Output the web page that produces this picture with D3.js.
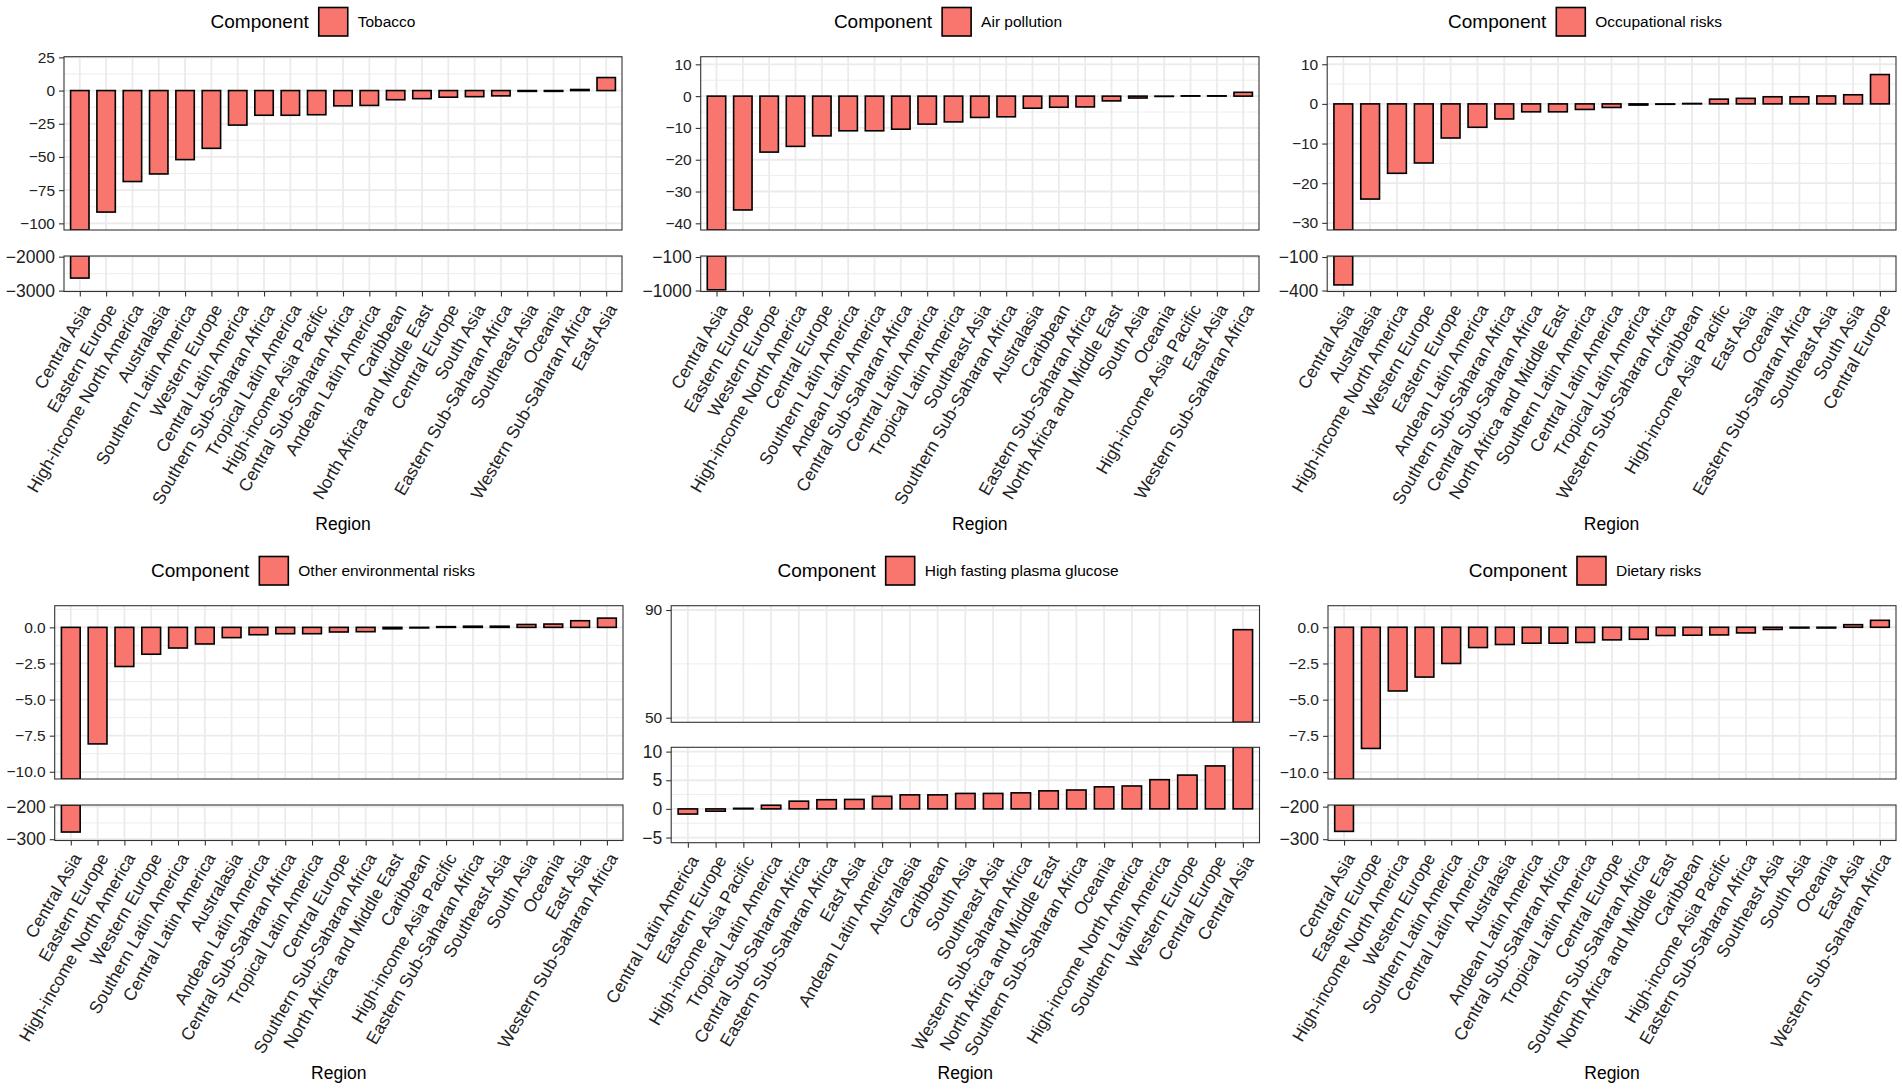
<!DOCTYPE html>
<html>
<head>
<meta charset="utf-8">
<title>Change by region and risk component</title>
<script src="https://d3js.org/d3.v7.min.js"></script>
<style>
  body { margin: 0; background: #fff; }
  text { font-family: "Liberation Sans", Arial, Helvetica, sans-serif; }
</style>
</head>
<body>
<script>
// ---- values ----
var tobaccoRegions = ["Central Asia", "Eastern Europe", "High-income North America", "Australasia",
  "Southern Latin America", "Western Europe", "Central Latin America", "Southern Sub-Saharan Africa",
  "Tropical Latin America", "High-income Asia Pacific", "Central Sub-Saharan Africa", "Andean Latin America",
  "Caribbean", "North Africa and Middle East", "Central Europe", "South Asia", "Eastern Sub-Saharan Africa",
  "Southeast Asia", "Oceania", "Western Sub-Saharan Africa", "East Asia"];
var tobaccoValues = [-2630, -91.5, -68.5, -62.8, -52, -43.5, -26, -18.6, -18.6, -18.2, -11.5, -11.2,
  -6.9, -6.1, -5, -4.6, -4, -0.6, -0.6, 0.8, 9.8];

var airRegions = ["Central Asia", "Eastern Europe", "Western Europe", "High-income North America",
  "Central Europe", "Southern Latin America", "Andean Latin America", "Central Sub-Saharan Africa",
  "Central Latin America", "Tropical Latin America", "Southeast Asia", "Southern Sub-Saharan Africa",
  "Australasia", "Caribbean", "Eastern Sub-Saharan Africa", "North Africa and Middle East", "South Asia",
  "Oceania", "High-income Asia Pacific", "East Asia", "Western Sub-Saharan Africa"];
var airValues = [-980, -35.8, -17.6, -15.8, -12.5, -10.9, -10.9, -10.4, -8.8, -8.1, -6.7, -6.5,
  -3.8, -3.5, -3.4, -1.5, -0.6, -0.1, 0.1, 0.1, 1.2];

var occupationalRegions = ["Central Asia", "Australasia", "High-income North America", "Western Europe",
  "Eastern Europe", "Andean Latin America", "Southern Sub-Saharan Africa", "Central Sub-Saharan Africa",
  "North Africa and Middle East", "Southern Latin America", "Central Latin America", "Tropical Latin America",
  "Western Sub-Saharan Africa", "Caribbean", "High-income Asia Pacific", "East Asia", "Oceania",
  "Eastern Sub-Saharan Africa", "Southeast Asia", "South Asia", "Central Europe"];
var occupationalValues = [-350, -24, -17.5, -14.9, -8.6, -5.9, -3.8, -2, -2, -1.4, -0.9, -0.3,
  -0.1, 0.1, 1.2, 1.4, 1.8, 1.8, 2.0, 2.3, 7.4];

var otherEnvRegions = ["Central Asia", "Eastern Europe", "High-income North America", "Western Europe",
  "Southern Latin America", "Central Latin America", "Australasia", "Andean Latin America",
  "Central Sub-Saharan Africa", "Tropical Latin America", "Central Europe", "Southern Sub-Saharan Africa",
  "North Africa and Middle East", "Caribbean", "High-income Asia Pacific", "Eastern Sub-Saharan Africa",
  "Southeast Asia", "South Asia", "Oceania", "East Asia", "Western Sub-Saharan Africa"];
var otherEnvValues = [-278, -8.07, -2.71, -1.86, -1.43, -1.15, -0.71, -0.51, -0.44, -0.44, -0.32, -0.3,
  -0.1, -0.04, 0.05, 0.08, 0.08, 0.2, 0.23, 0.46, 0.64];

var glucoseRegions = ["Central Latin America", "Eastern Europe", "High-income Asia Pacific",
  "Tropical Latin America", "Central Sub-Saharan Africa", "Eastern Sub-Saharan Africa", "East Asia",
  "Andean Latin America", "Australasia", "Caribbean", "South Asia", "Southeast Asia",
  "Western Sub-Saharan Africa", "North Africa and Middle East", "Southern Sub-Saharan Africa", "Oceania",
  "High-income North America", "Southern Latin America", "Western Europe", "Central Europe", "Central Asia"];
var glucoseValues = [-0.9, -0.4, 0.1, 0.64, 1.35, 1.6, 1.65, 2.2, 2.45, 2.45, 2.7, 2.7,
  2.8, 3.15, 3.3, 3.85, 4.0, 5.1, 5.9, 7.5, 82.7];

var dietaryRegions = ["Central Asia", "Eastern Europe", "High-income North America", "Western Europe",
  "Southern Latin America", "Central Latin America", "Australasia", "Andean Latin America",
  "Central Sub-Saharan Africa", "Tropical Latin America", "Central Europe", "Southern Sub-Saharan Africa",
  "North Africa and Middle East", "Caribbean", "High-income Asia Pacific", "Eastern Sub-Saharan Africa",
  "Southeast Asia", "South Asia", "Oceania", "East Asia", "Western Sub-Saharan Africa"];
var dietaryValues = [-276, -8.37, -4.4, -3.44, -2.5, -1.4, -1.19, -1.1, -1.1, -1.05, -0.87, -0.83,
  -0.57, -0.55, -0.53, -0.39, -0.15, -0.05, -0.05, 0.18, 0.48];

// y tick labels of each axis segment (upper segment first)
var tobaccoTicks = [25, 0, -25, -50, -75, -100], tobaccoBreakTicks = [-2000, -3000];
var airTicks = [10, 0, -10, -20, -30, -40], airBreakTicks = [-100, -1000];
var occupationalTicks = [10, 0, -10, -20, -30], occupationalBreakTicks = [-100, -400];
var otherEnvTicks = [0, -2.5, -5, -7.5, -10], otherEnvBreakTicks = [-200, -300];
var glucoseBreakTicks = [90, 50], glucoseTicks = [10, 5, 0, -5];
var dietaryTicks = [0, -2.5, -5, -7.5, -10], dietaryBreakTicks = [-200, -300];

// ---- figure ----
var width = 1902, height = 1090;
var barFill = "#F8766D";
var textCol = "#222";
var rowOff = [0, 549];
var colCenter = [313, 948, 1585];

var panels = [
  { name: "Tobacco", regions: tobaccoRegions, values: tobaccoValues,
    left: 64, right: 622,
    segs: [{ top: 56.7, bottom: 230, domain: [-105, 25.5], ticks: tobaccoTicks, digits: 0, big: false },
           { top: 256, bottom: 291.5, domain: [-3025, -1980], ticks: tobaccoBreakTicks, digits: 0, big: true }] },
  { name: "Air pollution", regions: airRegions, values: airValues,
    left: 700.7, right: 1259,
    segs: [{ top: 56.7, bottom: 230, domain: [-42.1, 12.4], ticks: airTicks, digits: 0, big: false },
           { top: 256, bottom: 291.5, domain: [-1026, -73], ticks: airBreakTicks, digits: 0, big: true }] },
  { name: "Occupational risks", regions: occupationalRegions, values: occupationalValues,
    left: 1327.2, right: 1896,
    segs: [{ top: 56.7, bottom: 230, domain: [-31.8, 11.9], ticks: occupationalTicks, digits: 0, big: false },
           { top: 256, bottom: 291.5, domain: [-409, -91], ticks: occupationalBreakTicks, digits: 0, big: true }] },
  { name: "Other environmental risks", regions: otherEnvRegions, values: otherEnvValues,
    left: 54.7, right: 623,
    segs: [{ top: 605.7, bottom: 779, domain: [-10.5, 1.5], ticks: otherEnvTicks, digits: 1, big: false },
           { top: 805, bottom: 840.5, domain: [-304, -195], ticks: otherEnvBreakTicks, digits: 0, big: true }] },
  { name: "High fasting plasma glucose", regions: glucoseRegions, values: glucoseValues,
    left: 671.2, right: 1259.5,
    segs: [{ top: 605.7, bottom: 722.3, domain: [48.3, 91.6], ticks: glucoseBreakTicks, digits: 0, big: false },
           { top: 747.3, bottom: 842.7, domain: [-5.9, 10.75], ticks: glucoseTicks, digits: 0, big: true }] },
  { name: "Dietary risks", regions: dietaryRegions, values: dietaryValues,
    left: 1328, right: 1896,
    segs: [{ top: 605.7, bottom: 779, domain: [-10.48, 1.49], ticks: dietaryTicks, digits: 1, big: false },
           { top: 805, bottom: 840.5, domain: [-304, -195], ticks: dietaryBreakTicks, digits: 0, big: true }] }
];

var svg = d3.select("body").append("svg")
  .attr("width", width)
  .attr("height", height)
  .style("display", "block");

svg.append("rect").attr("width", width).attr("height", height).attr("fill", "#fff");

function fmt(digits) {
  return function(t) {
    var s = Math.abs(t).toFixed(digits);
    return (t < 0 ? "\u2212" : "") + s;
  };
}

// minor breaks halfway between majors, as ggplot does
function minorBreaks(ticks, domain) {
  var step = Math.abs(ticks[0] - ticks[1]), out = [];
  ticks.forEach(function(t) {
    [t - step / 2, t + step / 2].forEach(function(m) {
      if (m > domain[0] && m < domain[1] && out.indexOf(m) < 0) out.push(m);
    });
  });
  return out;
}

panels.forEach(function(p, i) {
  var col = i % 3, row = Math.floor(i / 3), off = rowOff[row];
  var g = svg.append("g");

  var x = d3.scalePoint().domain(p.regions).range([p.left, p.right]).padding(0.6);
  var bw = x.step() * 0.7;
  var data = p.regions.map(function(r, k) { return { region: r, value: p.values[k] }; });

  // legend
  var lg = g.append("g");
  var title = lg.append("text").text("Component")
    .attr("font-size", 19).attr("fill", "#000")
    .attr("y", off + 21.7).attr("dy", "0.35em");
  var label = lg.append("text").text(p.name)
    .attr("font-size", 15.5).attr("fill", "#000")
    .attr("y", off + 21.7).attr("dy", "0.35em");
  var tw = title.node().getComputedTextLength();
  var lw = label.node().getComputedTextLength();
  var start = colCenter[col] - (tw + 10 + 29 + 10 + lw) / 2;
  title.attr("x", start);
  lg.append("rect")
    .attr("x", start + tw + 10).attr("y", off + 7.5)
    .attr("width", 29).attr("height", 28.5)
    .attr("fill", barFill).attr("stroke", "#000").attr("stroke-width", 1.6);
  label.attr("x", start + tw + 10 + 29 + 10);

  p.segs.forEach(function(s, k) {
    var y = d3.scaleLinear().domain(s.domain).range([s.bottom, s.top]).clamp(true);
    var clipId = "clip" + i + "_" + k;
    g.append("clipPath").attr("id", clipId)
      .append("rect")
      .attr("x", p.left).attr("y", s.top)
      .attr("width", p.right - p.left).attr("height", s.bottom - s.top);

    var pg = g.append("g").attr("clip-path", "url(#" + clipId + ")");
    pg.append("rect")
      .attr("x", p.left).attr("y", s.top)
      .attr("width", p.right - p.left).attr("height", s.bottom - s.top)
      .attr("fill", "#fff");

    pg.selectAll(".minor").data(minorBreaks(s.ticks, s.domain)).enter().append("line")
      .attr("x1", p.left).attr("x2", p.right)
      .attr("y1", function(d) { return y(d); }).attr("y2", function(d) { return y(d); })
      .attr("stroke", "#EBEBEB").attr("stroke-width", 0.9);
    pg.selectAll(".major").data(s.ticks).enter().append("line")
      .attr("x1", p.left).attr("x2", p.right)
      .attr("y1", function(d) { return y(d); }).attr("y2", function(d) { return y(d); })
      .attr("stroke", "#EBEBEB").attr("stroke-width", 1.8);
    pg.selectAll(".vgrid").data(p.regions).enter().append("line")
      .attr("x1", function(d) { return x(d); }).attr("x2", function(d) { return x(d); })
      .attr("y1", s.top).attr("y2", s.bottom)
      .attr("stroke", "#EBEBEB").attr("stroke-width", 1.8);

    var lo = s.domain[0], hi = s.domain[1];
    pg.selectAll(".bar")
      .data(data.filter(function(d) {
        return Math.max(0, d.value) > lo && Math.min(0, d.value) < hi;
      }))
      .enter().append("rect")
      .attr("x", function(d) { return x(d.region) - bw / 2; })
      .attr("width", bw)
      .attr("y", function(d) { return y(Math.max(0, d.value)); })
      .attr("height", function(d) {
        return Math.max(0, y(Math.min(0, d.value)) - y(Math.max(0, d.value)));
      })
      .attr("fill", barFill)
      .attr("stroke", "#000")
      .attr("stroke-width", 1.6);

    g.append("rect")
      .attr("x", p.left).attr("y", s.top)
      .attr("width", p.right - p.left).attr("height", s.bottom - s.top)
      .attr("fill", "none").attr("stroke", "#333").attr("stroke-width", 1.1);

    var ya = g.append("g")
      .attr("transform", "translate(" + p.left + ",0)")
      .call(d3.axisLeft(y).tickValues(s.ticks).tickSize(5).tickPadding(4).tickFormat(fmt(s.digits)));
    ya.select(".domain").remove();
    ya.selectAll("line").attr("stroke", "#333").attr("stroke-width", 1.1);
    ya.selectAll("text")
      .attr("font-size", s.big ? 17.5 : 15.5)
      .attr("fill", textCol)
      .attr("font-family", "Liberation Sans, Arial, sans-serif");
  });

  // x axis under the lower segment
  var last = p.segs[p.segs.length - 1];
  var xa = g.append("g")
    .attr("transform", "translate(0," + last.bottom + ")")
    .call(d3.axisBottom(x).tickSize(5).tickPadding(0));
  xa.select(".domain").remove();
  xa.selectAll("line").attr("stroke", "#333").attr("stroke-width", 1.1);
  xa.selectAll("text")
    .attr("x", 0).attr("y", 0)
    .attr("dy", "0.72em")
    .attr("text-anchor", "end")
    .attr("transform", "translate(0,11) rotate(-60)")
    .attr("font-size", 17.5)
    .attr("fill", textCol)
    .attr("font-family", "Liberation Sans, Arial, sans-serif");

  g.append("text")
    .attr("x", (p.left + p.right) / 2)
    .attr("y", off + 530)
    .attr("text-anchor", "middle")
    .attr("font-size", 17.5)
    .attr("fill", "#000")
    .text("Region");
});
</script>
</body>
</html>
